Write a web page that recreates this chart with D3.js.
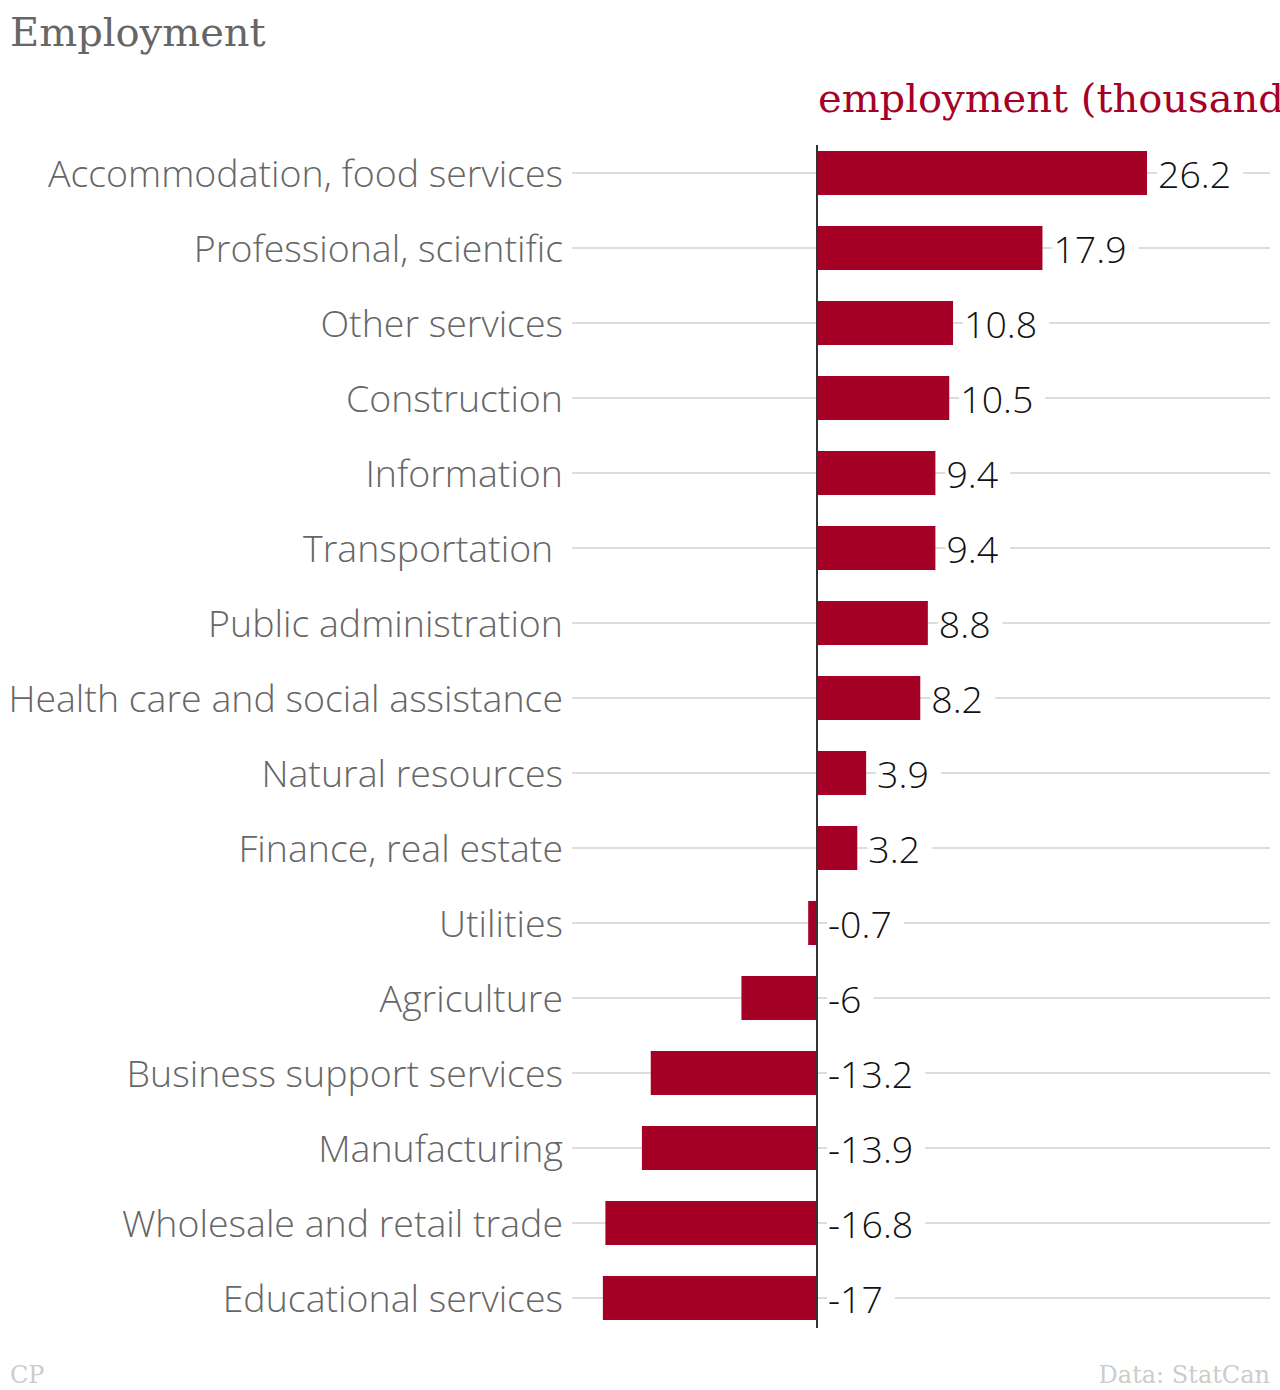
<!DOCTYPE html>
<html><head><meta charset="utf-8">
<script src="https://cdn.jsdelivr.net/npm/d3@7"></script>
<style>
html,body{margin:0;padding:0;background:#fff;}
svg{display:block;}
</style></head>
<body>
<script>
const categories = ["Accommodation, food services","Professional, scientific","Other services","Construction","Information","Transportation ","Public administration","Health care and social assistance","Natural resources","Finance, real estate","Utilities","Agriculture","Business support services","Manufacturing","Wholesale and retail trade","Educational services"];
const values = [26.2,17.9,10.8,10.5,9.4,9.4,8.8,8.2,3.9,3.2,-0.7,-6,-13.2,-13.9,-16.8,-17];
const title = "Employment";
const seriesName = "employment (thousands)";
const sourceLeft = "CP";
const sourceRight = "Data: StatCan";

const W = 1280, H = 1390;
const svg = d3.select("body").append("svg").attr("width", W).attr("height", H);

const x = d3.scaleLinear().domain([0, 26.2]).range([817, 1147]);
const y = d3.scaleBand().domain(categories).range([135.5, 1335.5]).paddingInner(0.413).paddingOuter(0.2065);

const serif = "'DejaVu Serif', serif";
const sans = "'Open Sans', sans-serif";

svg.append("text").attr("x", 10).attr("y", 46).attr("font-family", serif).attr("font-size", 40)
  .attr("fill", "#666").text(title);
svg.append("text").attr("x", 818).attr("y", 112).attr("font-family", serif).attr("font-size", 40)
  .attr("fill", "#a50026").text(seriesName);

const rows = categories.map((c, i) => ({c, v: values[i]}));

// grid lines
svg.append("g").selectAll("line").data(rows).join("line")
  .attr("x1", 572).attr("x2", 1270)
  .attr("y1", d => y(d.c) + y.bandwidth()/2).attr("y2", d => y(d.c) + y.bandwidth()/2)
  .attr("stroke", "#ddd").attr("stroke-width", 2);

// category labels
svg.append("g").selectAll("text").data(rows).join("text")
  .attr("x", 563).attr("y", d => y(d.c) + y.bandwidth()/2)
  .attr("dy", "0.37em").attr("text-anchor", "end")
  .attr("font-family", sans).attr("font-weight", 300).attr("font-size", 37.5)
  .attr("fill", "#666").attr("xml:space", "preserve").style("white-space", "pre")
  .text(d => d.c);

// bars
svg.append("g").selectAll("rect").data(rows).join("rect")
  .attr("x", d => Math.min(x(0), x(d.v)))
  .attr("width", d => Math.abs(x(d.v) - x(0)))
  .attr("y", d => y(d.c)).attr("height", y.bandwidth())
  .attr("fill", "#a50026");

// value labels with white background
const vg = svg.append("g").selectAll("g").data(rows).join("g");
const vt = vg.append("text")
  .attr("x", d => (d.v >= 0 ? x(d.v) : x(0)) + 11)
  .attr("y", d => y(d.c) + y.bandwidth()/2)
  .attr("dy", "0.4em")
  .attr("font-family", sans).attr("font-weight", 300).attr("font-size", 37.5)
  .attr("fill", "#111")
  .text(d => d3.format("")(d.v).replace("−", "-"));
vt.each(function() {
  const bb = this.getBBox();
  d3.select(this.parentNode).insert("rect", "text")
    .attr("x", bb.x - 1).attr("y", bb.y + 6).attr("width", bb.width + 13).attr("height", bb.height - 12)
    .attr("fill", "#fff");
});

// zero axis line
svg.append("line").attr("x1", x(0)).attr("x2", x(0)).attr("y1", 145).attr("y2", 1328)
  .attr("stroke", "#333").attr("stroke-width", 2);

svg.append("text").attr("x", 10).attr("y", 1383).attr("font-family", serif).attr("font-size", 24)
  .attr("fill", "#ccc").text(sourceLeft);
svg.append("text").attr("x", 1270).attr("y", 1383).attr("text-anchor", "end").attr("font-family", serif).attr("font-size", 24)
  .attr("fill", "#ccc").text(sourceRight);
</script>
</body></html>
